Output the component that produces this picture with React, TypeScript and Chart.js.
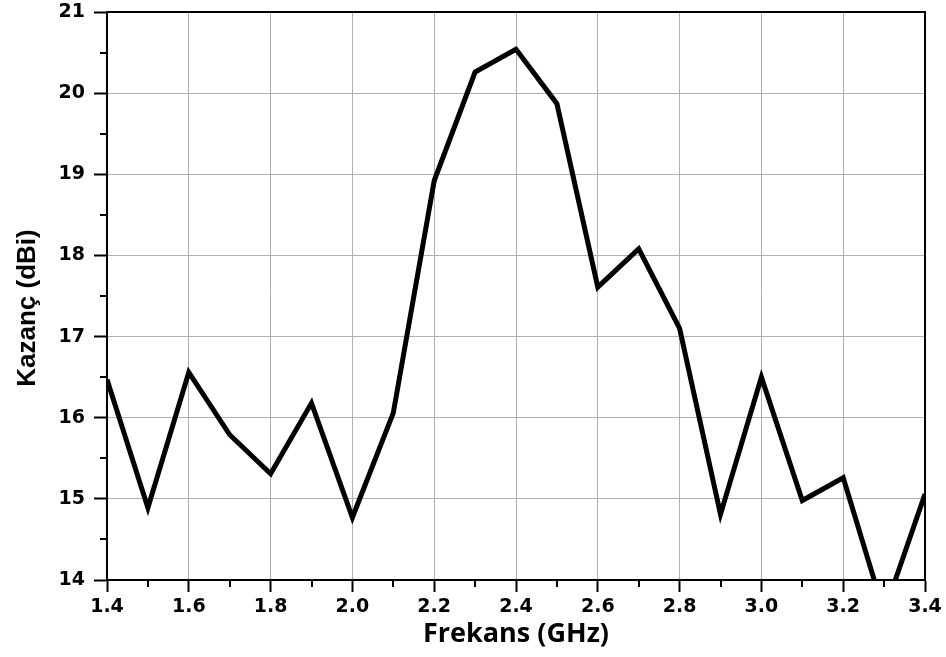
import React, { useEffect, useRef } from "react";
import { Chart, registerables } from "chart.js";

Chart.register(...registerables);

const frequencies = [1.4, 1.5, 1.6, 1.7, 1.8, 1.9, 2.0, 2.1, 2.2, 2.3, 2.4, 2.5, 2.6, 2.7, 2.8, 2.9, 3.0, 3.1, 3.2, 3.3, 3.4];
const gains = [16.47, 14.89, 16.56, 15.79, 15.31, 16.18, 14.77, 16.06, 18.92, 20.26, 20.54, 19.87, 17.61, 18.08, 17.1, 14.81, 16.5, 14.98, 15.26, 13.6, 15.06];
const xTitle = "Frekans (GHz)";
const yTitle = "Kazanç (dBi)";

const boxAndMinor = {
  id: "boxAndMinor",
  afterDraw(chart: any) {
    const { ctx, chartArea, scales } = chart;
    ctx.save();
    ctx.strokeStyle = "#000";
    ctx.lineWidth = 2;
    ctx.strokeRect(chartArea.left, chartArea.top, chartArea.right - chartArea.left, chartArea.bottom - chartArea.top);
    const xs = scales.x;
    const ys = scales.y;
    ctx.beginPath();
    for (let v = 1.5; v < 3.4; v += 0.2) {
      const px = Math.round(xs.getPixelForValue(v));
      ctx.moveTo(px, chartArea.bottom);
      ctx.lineTo(px, chartArea.bottom + 7);
    }
    for (let v = 14.5; v < 21; v += 1) {
      const py = Math.round(ys.getPixelForValue(v));
      ctx.moveTo(chartArea.left, py);
      ctx.lineTo(chartArea.left - 7, py);
    }
    ctx.stroke();
    ctx.restore();

    // y-axis title
    ctx.save();
    ctx.font = "bold 26px 'Liberation Sans'";
    ctx.translate(28, (chartArea.top + chartArea.bottom) / 2 + 12);
    ctx.rotate(-Math.PI / 2);
    ctx.fillStyle = "#000";
    ctx.textAlign = "center";
    ctx.textBaseline = "middle";
    ctx.fillText(yTitle, 0, 0);
    ctx.restore();
  },
};

export default function App() {
  const ref = useRef<HTMLCanvasElement>(null);
  useEffect(() => {
    const chart = new Chart(ref.current!, {
      type: "line",
      data: {
        datasets: [
          {
            data: frequencies.map((f, i) => ({ x: f, y: gains[i] })),
            borderColor: "#000",
            borderWidth: 5,
            pointRadius: 0,
            tension: 0,
            borderJoinStyle: "miter",
          },
        ],
      },
      options: {
        animation: false,
        responsive: false,
        layout: { padding: { top: 12, right: 21, left: 0, bottom: 0 } },
        plugins: { legend: { display: false }, tooltip: { enabled: false } },
        scales: {
          x: {
            type: "linear",
            min: 1.4,
            max: 3.4,
            afterFit(scale: any) {
              scale.height = 77;
              scale.paddingLeft = 0;
              scale.paddingRight = 0;
            },
            ticks: {
              stepSize: 0.2,
              color: "#000",
              padding: 4,
              maxRotation: 0,
              font: { family: "DejaVu Sans", size: 19, weight: "bold" },
              callback: (v: any) => Number(v).toFixed(1),
            },
            grid: { color: "#b0b0b0", lineWidth: 1, tickColor: "#000", tickLength: 12, tickWidth: 2 },
            border: { color: "#000", width: 2 },
            title: {
              display: true,
              text: xTitle,
              color: "#000",
              padding: { top: 0, bottom: 6 },
              font: { family: "Open Sans", size: 27, weight: "bold" },
            },
          },
          y: {
            min: 14,
            max: 21,
            afterFit(scale: any) {
              scale.width = 107;
              scale.paddingTop = 0;
              scale.paddingBottom = 0;
            },
            ticks: {
              stepSize: 1,
              color: "#000",
              padding: 9,
              font: { family: "DejaVu Sans", size: 19, weight: "bold" },
            },
            grid: { color: "#b0b0b0", lineWidth: 1, tickColor: "#000", tickLength: 13, tickWidth: 2 },
            border: { color: "#000", width: 2 },
            title: { display: false },
          },
        },
      },
      plugins: [boxAndMinor],
    } as any);
    return () => chart.destroy();
  }, []);
  return (
    <div style={{ position: "absolute", left: 0, top: 0, width: 946, height: 657, background: "#fff" }}>
      <canvas ref={ref} width={946} height={657} style={{ display: "block" }} />
    </div>
  );
}
